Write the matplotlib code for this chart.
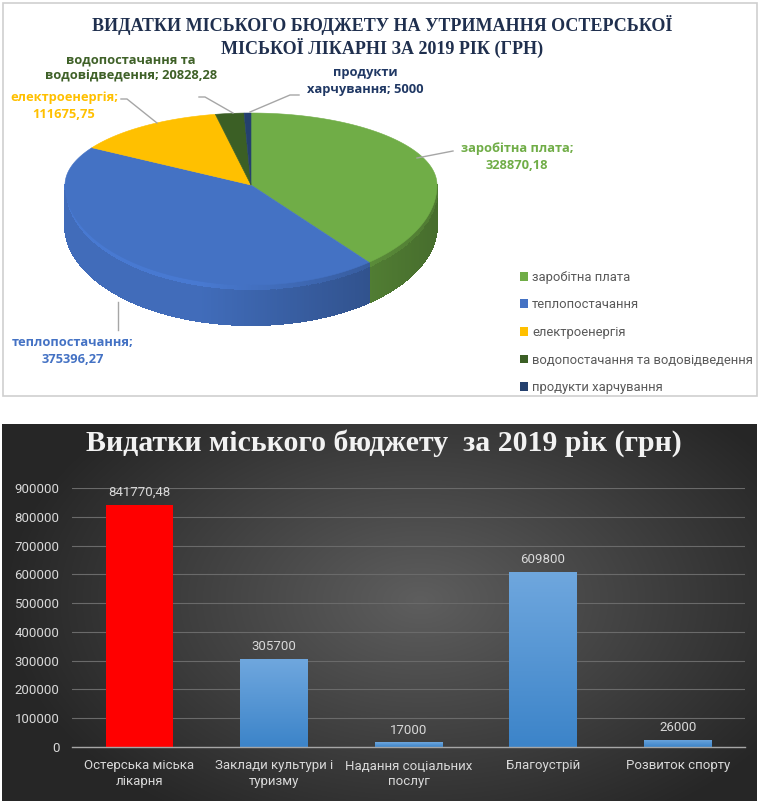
import numpy as np
import matplotlib.pyplot as plt
from matplotlib.patches import Polygon, Rectangle, Patch
from matplotlib.collections import PolyCollection
from matplotlib.colors import to_rgb

# ---- data: pie (top panel) ----
pie_names = ["заробітна плата", "теплопостачання", "електроенергія",
             "водопостачання та водовідведення", "продукти харчування"]
pie_values = [328870.18, 375396.27, 111675.75, 20828.28, 5000]
pie_colors = ["#70AD47", "#4472C4", "#FFC000", "#3B5F25", "#24406E"]
pie_text_colors = ["#70AD47", "#4472C4", "#FFC000", "#3F6128", "#203864"]

# ---- data: bars (bottom panel) ----
bar_categories = ["Остерська міська\nлікарня", "Заклади культури і\nтуризму",
                  "Надання соціальних\nпослуг", "Благоустрій", "Розвиток спорту"]
bar_values = [841770.48, 305700, 17000, 609800, 26000]
bar_yticks = [0, 100000, 200000, 300000, 400000, 500000, 600000, 700000,
              800000, 900000]

SANS = ["Roboto", "DejaVu Sans"]
LABEL = ["Open Sans", "DejaVu Sans"]
SERIF = ["Liberation Serif", "DejaVu Serif"]


def fmt(v):
    s = f"{v:.2f}".rstrip("0").rstrip(".")
    return s.replace(".", ",")


def shade(color, f):
    r, g, b = to_rgb(color)
    return (min(r * f, 1), min(g * f, 1), min(b * f, 1))


fig = plt.figure(figsize=(7.61, 8.01), dpi=100)
fig.patch.set_facecolor("white")

# overlay axes in pixel coordinates
ov = fig.add_axes([0, 0, 1, 1])
ov.set_xlim(0, 761)
ov.set_ylim(801, 0)
ov.axis("off")

# top panel frame
ov.add_patch(Rectangle((3, 3), 754, 393, facecolor="white",
                       edgecolor="#cfcfcf", lw=1.2))

ov.text(382, 25, "ВИДАТКИ МІСЬКОГО БЮДЖЕТУ НА УТРИМАННЯ ОСТЕРСЬКОЇ",
        ha="center", va="center", fontsize=13, fontweight="bold",
        family=SERIF, color="#1F2F4E")
ov.text(382, 48, "МІСЬКОЇ ЛІКАРНІ ЗА 2019 РІК (ГРН)",
        ha="center", va="center", fontsize=13, fontweight="bold",
        family=SERIF, color="#1F2F4E")

# ---- 3D-looking pie ----
cx, cy = 251, 185
rx, ry_back, ry_front = 186, 72, 100
depth = 40


def rim(theta, dy=0.0):
    c = np.cos(theta)
    ry = np.where(c >= 0, ry_back, ry_front)
    return cx + rx * np.sin(theta), cy - ry * c + dy


total = sum(pie_values)
bounds = np.concatenate([[0], np.cumsum(pie_values) / total]) * 2 * np.pi

# side walls (front half only), two bands for a soft vertical shading
quads, qcols = [], []
for i, col in enumerate(pie_colors):
    a0, a1 = max(bounds[i], np.pi / 2), min(bounds[i + 1], 3 * np.pi / 2)
    if a1 <= a0:
        continue
    th = np.linspace(a0, a1, max(int((a1 - a0) * 80), 2))
    for t0, t1 in zip(th[:-1], th[1:]):
        x0, y0 = rim(t0)
        x1, y1 = rim(t1)
        f = min(0.88 - 0.25 * np.sin((t0 + t1) / 2), 0.95)
        for d0, d1, k in [(0, 6, 1.12), (6, depth, 1.0)]:
            quads.append([(x0, y0 + d0), (x1, y1 + d0), (x1, y1 + d1),
                          (x0, y0 + d1)])
            qcols.append(shade(col, f * k))
ov.add_collection(PolyCollection(quads, facecolors=qcols, edgecolors=qcols,
                                 linewidths=0.8, antialiaseds=False))

# top faces
for i, col in enumerate(pie_colors):
    th = np.linspace(bounds[i], bounds[i + 1],
                     max(int((bounds[i + 1] - bounds[i]) * 60), 3))
    xs, ys = rim(th)
    pts = [(cx, cy)] + list(zip(xs, ys))
    ov.add_patch(Polygon(pts, closed=True, facecolor=col, edgecolor=col,
                         lw=0.4))

# data labels with leader lines
label_pos = [(517, 157), (73, 351), (64, 106), (131, 68), (365, 81)]
leaders = [((417, 158), (453, 151)), ((118, 302), (118, 330)),
           ((157, 123), (127, 99), (121, 99)), ((233, 113), (205, 97), (199, 97)),
           ((250, 112), (290, 95), (299, 95))]
for name, v, col, pos, ln in zip(pie_names, pie_values, pie_text_colors,
                                 label_pos, leaders):
    if " та " in name:
        txt = name.replace(" водо", "\nводо") + "; " + fmt(v)
    elif name == "продукти харчування":
        txt = "продукти\nхарчування; " + fmt(v)
    else:
        txt = name + ";\n" + fmt(v)
    ov.text(pos[0], pos[1], txt, ha="center", va="center", fontsize=9.3,
            fontweight="bold", family=LABEL, color=col, linespacing=1.35)
    ov.plot([p[0] for p in ln], [p[1] for p in ln], color="#a6a6a6", lw=1)

handles = [Patch(facecolor=c, edgecolor="none") for c in pie_colors]
leg = ov.legend(handles, pie_names, loc="upper left",
                bbox_to_anchor=(508 / 761, 1 - 259 / 801), frameon=False,
                labelspacing=1.12, handlelength=0.65,
                handleheight=0.65, handletextpad=0.3,
                prop={"family": SANS, "size": 9.4})
for t in leg.get_texts():
    t.set_color("#595959")

# ---- bottom panel background (radial gradient) ----
yy, xx = np.mgrid[424:801, 2:757]
r = np.sqrt(((xx - 420) / 420.0) ** 2 + ((yy - 600) / 260.0) ** 2)
r = np.clip(r, 0, 1)
c_in, c_out = np.array(to_rgb("#5e5e5e")), np.array(to_rgb("#262626"))
grad = c_in[None, None, :] * (1 - r[..., None]) + c_out[None, None, :] * r[..., None]
ov.imshow(grad, extent=[2, 757, 801, 424], aspect="auto", zorder=0.5)
ov.set_xlim(0, 761)
ov.set_ylim(801, 0)

ov.text(384, 443, "Видатки міського бюджету  за 2019 рік (грн)",
        ha="center", va="center", fontsize=21.5, fontweight="bold",
        family=SERIF, color="#f2f2f2")

# ---- bar chart ----
ax = fig.add_axes([72 / 761, 54 / 801, 673 / 761, 259 / 801])
ax.patch.set_alpha(0)
x = np.arange(len(bar_categories))
colors = ["#FF0000"] + ["#5B9BD5"] * (len(bar_values) - 1)
bars = ax.bar(x, bar_values, width=0.5, color=colors, zorder=2)

# gentle vertical gradient on the blue bars
g = np.linspace(0, 1, 100)[:, None]
top_c, bot_c = np.array(to_rgb("#6FA7DE")), np.array(to_rgb("#3C84C9"))
for b in bars[1:]:
    img = top_c[None, None, :] * (1 - g[..., None]) + bot_c[None, None, :] * g[..., None]
    im = ax.imshow(img, extent=[b.get_x(), b.get_x() + b.get_width(), 0,
                                b.get_height()], aspect="auto", zorder=2.5,
                   origin="upper")
    im.set_clip_path(b)

ax.set_xlim(-0.5, len(bar_values) - 0.5)
ax.set_ylim(0, 900000)
ax.set_yticks(bar_yticks)
ax.set_yticklabels([str(t) for t in bar_yticks])
ax.set_xticks(x)
ax.set_xticklabels(bar_categories, linespacing=1.3)
ax.tick_params(axis="both", length=0, colors="#d9d9d9", labelsize=9.5)
ax.tick_params(axis="y", pad=9)
ax.tick_params(axis="x", pad=9)
for lbl in ax.get_xticklabels() + ax.get_yticklabels():
    lbl.set_family(SANS)
ax.grid(axis="y", color="#6a6a6a", lw=0.8, zorder=1)
for s in ["top", "right", "left"]:
    ax.spines[s].set_visible(False)
ax.spines["bottom"].set_color("#a6a6a6")
ax.spines["bottom"].set_linewidth(1)

ax.bar_label(bars, labels=[fmt(v) for v in bar_values], padding=4,
             color="#d9d9d9", fontsize=9.5, family=SANS)

fig.savefig("out.png", dpi=100)
